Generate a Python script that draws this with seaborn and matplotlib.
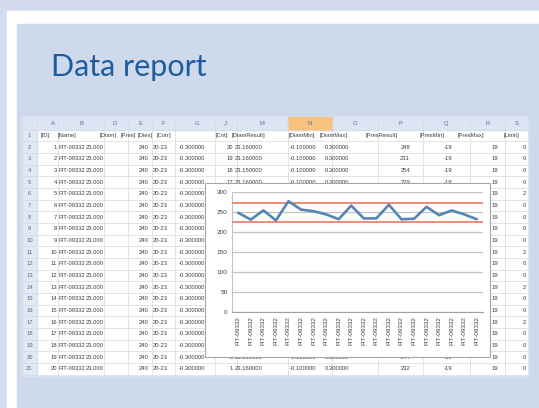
import numpy as np
import pandas as pd
import matplotlib.pyplot as plt
import seaborn as sns
from matplotlib.patches import Rectangle

# ---- spreadsheet content (rows 2-21) ----
ids = [1, 2, 3, 4, 5, 6, 7, 8, 9, 10, 11, 12, 13, 14, 15, 16, 17, 18, 19, 20]
names = ["FIT-09332"] * 20
diam = ["23.000"] * 20
pres = [240] * 20
dies = ["20-23"] * 20
corr = ["-0.300000"] * 20
cnt = [20, 19, 18, 17, 16, 15, 14, 13, 12, 11, 10, 9, 8, 7, 6, 5, 4, 3, 2, 1]
diam_result = ["23.160000", "23.160000", "23.150000", "23.160000", "23.160000",
               "23.150000", "23.160000", "23.160000", "23.150000", "23.160000",
               "23.160000", "23.160000", "23.150000", "23.160000", "23.160000",
               "23.160000", "23.150000", "23.160000", "23.160000", "23.160000"]
diam_min = ["-0.100000"] * 20
diam_max = ["0.300000"] * 20
pres_result = [248, 231, 254, 229, 277, 256, 252, 244, 232, 266,
               234, 234, 268, 232, 233, 263, 242, 254, 244, 232]
pres_min = [-19] * 20
pres_max = [19] * 20
limit = [0, 0, 0, 0, 2, 0, 0, 0, 0, 2, 0, 0, 2, 0, 0, 2, 0, 0, 0, 0]

col_letters = ["A", "B", "D", "E", "F", "G", "J", "M", "N", "O", "P", "Q", "R", "S"]
field_names = ["[ID]", "[Name]", "[Diam]", "[Pres]", "[Dies]", "[Corr]", "[Cnt]",
               "[DiamResult]", "[DiamMin]", "[DiamMax]", "[PresResult]",
               "[PresMin]", "[PresMax]", "[Limit]"]

# chart limits and axis
upper_limit = 273
lower_limit = 225
y_ticks = [0, 50, 100, 150, 200, 250, 300]

title = "Data report"

# ---- layout (pixel coords of the 539x408 picture) ----
W, H = 539, 408
col_edges = [22, 37, 58, 104, 128, 152, 175, 215, 237, 288, 332, 378, 423, 470, 505, 528]
letter_x = [53, 81, 115, 140, 163, 197, 225, 262, 310, 355, 400, 446, 488, 517]
field_x = [41, 58, 100, 121, 138, 157, 216, 232, 289, 320, 366, 420, 458, 504]
data_cols = [(ids, 57, "right"), (names, 58.5, "left"), (diam, 86, "left"),
             (pres, 148, "right"), (dies, 153, "left"), (corr, 178.5, "left"),
             (cnt, 233, "right"), (diam_result, 235, "left"),
             (diam_min, 290, "left"), (diam_max, 325, "left"),
             (pres_result, 410, "right"), (pres_min, 452, "right"),
             (pres_max, 498, "right"), (limit, 526, "right")]
head_top, row1_top, row_h = 117, 129.5, 11.68
table_bottom = row1_top + 21 * row_h
box = (205, 183, 490, 357)  # chart object: x0, y0, x1, y1

sns.set_theme(style="white")
plt.rcParams["font.family"] = ["Liberation Sans", "DejaVu Sans"]

fig = plt.figure(figsize=(W / 100, H / 100), dpi=100)
fig.patch.set_facecolor("#d3dcee")
bg = fig.add_axes([0, 0, 1, 1])
bg.set_xlim(0, W)
bg.set_ylim(H, 0)
bg.axis("off")

# frame and panel
bg.add_patch(Rectangle((7, 11), W, H, color="white", zorder=0))
bg.add_patch(Rectangle((17, 24), W, H, color="#cfd9ec", zorder=1))
bg.text(51, 76, title, fontsize=22, color="#1f5c9f", family="Lato",
        va="baseline", ha="left", zorder=2)

# sheet background
bg.add_patch(Rectangle((22, head_top), 506, table_bottom - head_top,
                       color="white", zorder=2))
bg.add_patch(Rectangle((22, head_top), 506, row1_top - head_top,
                       color="#dbe5f3", zorder=3))
bg.add_patch(Rectangle((22, row1_top), 15, table_bottom - row1_top,
                       color="#e1e9f5", zorder=3))
bg.add_patch(Rectangle((col_edges[9], head_top), col_edges[10] - col_edges[9],
                       row1_top - head_top, color="#f6c27e", zorder=3))
for k in range(22):
    y = row1_top + k * row_h
    bg.plot([22, 528], [y, y], color="#d5dae2", lw=0.5, zorder=4)
for x in col_edges:
    bg.plot([x, x], [head_top, table_bottom], color="#d5dae2", lw=0.5, zorder=4)

txt = dict(fontsize=4.2, color="#3a3e45", va="center", zorder=5)
hdr = {**txt, "color": "#5a6a88"}
for lab, x in zip(col_letters, letter_x):
    bg.text(x, (head_top + row1_top) / 2, lab, ha="center", **hdr)
for r in range(21):
    bg.text(29.5, row1_top + (r + 0.5) * row_h, str(r + 1), ha="center", **hdr)
for lab, x in zip(field_names, field_x):
    bg.text(x, row1_top + 0.5 * row_h, lab, ha="left", **txt)
for values, x, ha in data_cols:
    for i, v in enumerate(values):
        y = row1_top + (i + 1.5) * row_h
        # cells completely under the chart object are not visible
        if box[1] + 4 < y < box[3] - 4 and box[0] < x < box[2]:
            continue
        bg.text(x, y, str(v), ha=ha, **txt)

# embedded chart box
bg.add_patch(Rectangle((box[0], box[1]), box[2] - box[0], box[3] - box[1],
                       facecolor="white", edgecolor="#a6a6a6", lw=0.8, zorder=10))

# ---- the chart ----
df = pd.DataFrame({"point": np.arange(len(pres_result)), "pres": pres_result})
ax = fig.add_axes([232 / W, (H - 312) / H, 251 / W, 120 / H])
ax.set_facecolor("white")
ax.grid(axis="y", color="#c4c4c4", lw=0.9)
ax.axhline(upper_limit, color="#f08a72", lw=1.4, zorder=3)
ax.axhline(lower_limit, color="#f08a72", lw=1.4, zorder=3)
sns.lineplot(data=df, x="point", y="pres", ax=ax, color="#5585b5", lw=1.9, zorder=4)
ax.set_xlim(-0.5, len(pres_result) - 0.5)
ax.set_ylim(0, 300)
ax.set_yticks(y_ticks)
ax.set_xticks(df["point"])
ax.set_xticklabels(names, rotation=90)
ax.tick_params(axis="both", labelsize=4.6, labelcolor="#404040", length=0, pad=3)
ax.set_xlabel("")
ax.set_ylabel("")
for s in ["top", "right"]:
    ax.spines[s].set_visible(False)
ax.spines["left"].set_color("#c4c4c4")
ax.spines["bottom"].set_color("#a0a0a0")
ax.spines["left"].set_linewidth(0.8)
ax.spines["bottom"].set_linewidth(0.8)

fig.savefig("out.png", dpi=100)
